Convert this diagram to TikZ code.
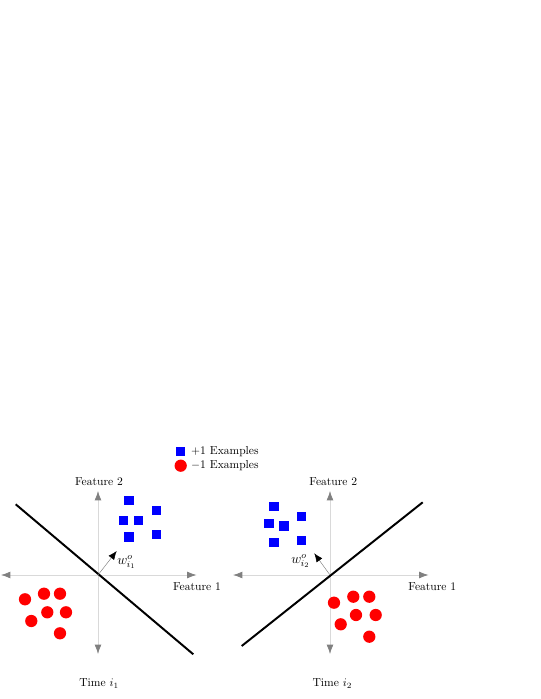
\documentclass[tikz,border=0pt]{standalone}
\usetikzlibrary{arrows.meta}
\begin{document}
\begin{tikzpicture}[x=0.864pt,y=-0.864pt,
 posex/.style={fill=blue,draw=none,rectangle,minimum size=8pt,inner sep=0pt},
 negex/.style={fill=red,draw=none,circle,minimum size=10.6pt,inner sep=0pt},
 axisline/.style={draw=gray!30,line width=0.6pt,{Latex[color=gray,length=8pt,width=5.8pt]}-{Latex[color=gray,length=8pt,width=5.8pt]}},
 sepline/.style={line width=1.7pt,black},
 wvec/.style={draw=gray,line width=0.4pt,-{Latex[color=black,length=7.5pt,width=6pt]}},
 lbl/.style={inner sep=0pt},
 wlbl/.style={inner sep=0pt,font=\large}]
\useasboundingbox (0,0) rectangle (540,699);

% legend
\node[posex] (lsq) at (180.7,451.3) {};
\node[lbl,anchor=west] (ltp) at (191,451.3) {$+1$ Examples};
\node[negex] (lci) at (180.7,465.7) {};
\node[lbl,anchor=west] (ltn) at (191,465.7) {$-1$ Examples};

% ---------- left panel ----------
\coordinate (o1) at (98,575);
\coordinate (xl1) at (1,575);
\coordinate (xr1) at (196.5,575);
\coordinate (yt1) at (98,491);
\coordinate (yb1) at (98,654);
\draw[axisline] (xl1) -- (xr1);
\draw[axisline] (yb1) -- (yt1);
\coordinate (s1a) at (15.7,504.3);
\coordinate (s1b) at (193.3,654.3);
\draw[sepline] (s1a) -- (s1b);
\coordinate (w1) at (116.7,551);
\draw[wvec] (o1) -- (w1);
\node[wlbl] (w1l) at (126.5,562) {$w^{o}_{i_1}$};
\node[lbl] (f21) at (99,482) {Feature 2};
\node[lbl] (f11) at (197,587) {Feature 1};
\node[lbl] (t1) at (99,683.5) {Time $i_1$};

\node[posex] (p11) at (129,500.7) {};
\node[posex] (p12) at (156.3,510.7) {};
\node[posex] (p13) at (123.7,520.7) {};
\node[posex] (p14) at (138.7,520.7) {};
\node[posex] (p15) at (129,537) {};
\node[posex] (p16) at (156.3,534.7) {};

\node[negex] (n11) at (25,599.3) {};
\node[negex] (n12) at (44,593.7) {};
\node[negex] (n13) at (60,593.7) {};
\node[negex] (n14) at (47.3,612.3) {};
\node[negex] (n15) at (66,612.3) {};
\node[negex] (n16) at (31.3,621) {};
\node[negex] (n17) at (60,633.3) {};

% ---------- right panel ----------
\coordinate (o2) at (330,575);
\coordinate (xl2) at (233,575);
\coordinate (xr2) at (428.5,575);
\coordinate (yt2) at (330,491);
\coordinate (yb2) at (330,654);
\draw[axisline] (xl2) -- (xr2);
\draw[axisline] (yb2) -- (yt2);
\coordinate (s2a) at (241.7,646);
\coordinate (s2b) at (422.7,502.3);
\draw[sepline] (s2a) -- (s2b);
\coordinate (w2) at (314.3,553.3);
\draw[wvec] (o2) -- (w2);
\node[wlbl] (w2l) at (300.5,561) {$w^{o}_{i_2}$};
\node[lbl] (f22) at (333.3,482) {Feature 2};
\node[lbl] (f12) at (432.3,587) {Feature 1};
\node[lbl] (t2) at (332.3,683.5) {Time $i_2$};

\node[posex] (p21) at (274,506.7) {};
\node[posex] (p22) at (301.7,516.7) {};
\node[posex] (p23) at (269,523.3) {};
\node[posex] (p24) at (284,526) {};
\node[posex] (p25) at (274,542.7) {};
\node[posex] (p26) at (301.7,540.7) {};

\node[negex] (n21) at (334,602.7) {};
\node[negex] (n22) at (353.3,596.7) {};
\node[negex] (n23) at (369.3,596.7) {};
\node[negex] (n24) at (356,615) {};
\node[negex] (n25) at (375.7,615) {};
\node[negex] (n26) at (340.7,624.3) {};
\node[negex] (n27) at (369.3,636.7) {};
\end{tikzpicture}
\end{document}
